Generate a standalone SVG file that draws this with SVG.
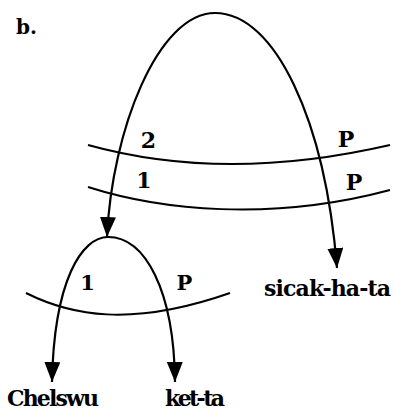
<svg xmlns="http://www.w3.org/2000/svg" width="395" height="411" viewBox="0 0 395 411">
<style>
text{font-family:"DejaVu Serif","Liberation Serif",serif;font-weight:bold;fill:#000}
.lbl{font-size:22px;text-anchor:middle}
.sm{font-size:21px;text-anchor:middle}
.w{font-size:22px}
.arc{fill:none;stroke:#000;stroke-width:2.2}
.strat{fill:none;stroke:#000;stroke-width:2}
</style>
<defs>
<marker id="ah" markerUnits="userSpaceOnUse" markerWidth="21" markerHeight="17" refX="20" refY="8" orient="auto" viewBox="0 0 21 17">
<path d="M0 0 L20 8 L0 16 Z" fill="#000"/>
</marker>
</defs>
<g id="title"><text x="16" y="34" style="font-size:20px">b.</text></g>
<g id="strata">
<path class="strat" d="M88 145 C160 165 260 175 390 145"/>
<path class="strat" d="M88 187 C160 210 270 222 390 190"/>
<path class="strat" d="M26 293 C70 315 130 328 230 293"/>
</g>
<g id="connectors">
<path class="arc" d="M215 13 C158 13 112 130 107 237" marker-end="url(#ah)"/>
<path class="arc" d="M215 13 C275 13 325 120 337 268" marker-end="url(#ah)"/>
<path class="arc" d="M108 237 C82 237 54 280 52 382" marker-end="url(#ah)"/>
<path class="arc" d="M108 237 C145 237 174 290 175 382" marker-end="url(#ah)"/>
</g>
<g id="labels">
<text class="lbl" x="148.5" y="148">2</text>
<text class="lbl" x="144" y="188">1</text>
<text class="lbl" x="346" y="147">P</text>
<text class="lbl" x="354" y="190">P</text>
<text class="sm" x="87.5" y="290">1</text>
<text class="sm" x="184.5" y="290">P</text>
</g>
<g id="node-chelswu"><text class="w" x="7" y="406" textLength="92">Chelswu</text></g>
<g id="node-ket-ta"><text class="w" x="165" y="406" textLength="60">ket-ta</text></g>
<g id="node-sicak-ha-ta"><text class="w" x="264" y="296" textLength="127">sicak-ha-ta</text></g>
</svg>
